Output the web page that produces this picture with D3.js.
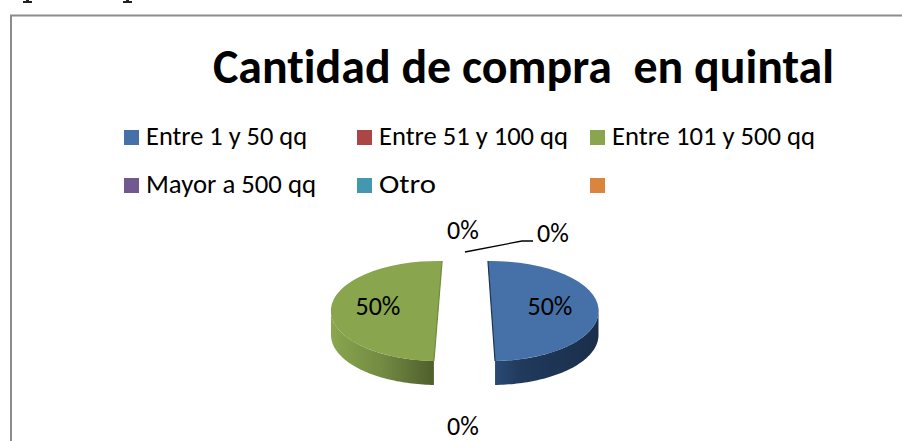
<!DOCTYPE html>
<html><head><meta charset="utf-8">
<script src="https://cdn.jsdelivr.net/npm/d3@7/dist/d3.min.js"></script>
<style>html,body{margin:0;padding:0;background:#fff}svg{display:block}text{font-family:Carlito,Calibri,Lato,sans-serif;fill:#000;white-space:pre;font-variant-ligatures:none}</style>
</head><body><svg id="c" width="902" height="441"></svg>
<script>
const chartTitle = "Cantidad de compra  en quintal";
const categories = ["Entre 1 y 50 qq","Entre 51 y 100 qq","Entre 101 y 500 qq","Mayor a 500 qq","Otro",""];
const values = [50,0,50,0,0,0];
const percentLabels = ["50%","0%","50%","0%","0%",""];
const colors = ["#4671a8","#aa4644","#89a54e","#71588f","#4298af","#db843d"];

const svg = d3.select("#c");
// slivers of the cropped page text above the chart (unreadable descender feet)
[23,123].forEach(x=>svg.append("path").attr("d",`M${x+3} 0h3v1h3v2h-9v-2h3z`).attr("fill","#222"));
svg.append("path").attr("d","M11 441V15.5H902").attr("fill","none").attr("stroke","#8c8c8c").attr("stroke-width",2);
svg.append("text").attr("x",213).attr("y",83).attr("font-size",48).attr("font-weight",700).attr("textLength",621).attr("lengthAdjust","spacingAndGlyphs").text(chartTitle);

const colX=d3.scalePoint().domain([0,1,2]).range([124,590]);
const rowY=d3.scalePoint().domain([0,1]).range([130,178]);
const textW=[161,189,203,170,57,0];
const lg=svg.selectAll("g.l").data(categories).join("g").attr("transform",(d,i)=>`translate(${colX(i%3)},${rowY(Math.floor(i/3))})`);
lg.append("rect").attr("width",15).attr("height",15).attr("fill",(d,i)=>colors[i]);
lg.append("text").attr("x",22).attr("y",15).attr("font-size",26).attr("textLength",(d,i)=>textW[i]||null).attr("lengthAdjust","spacingAndGlyphs").text(d=>d);

const rx=107, ry=50, depth=24, startDeg=-1.9;
const pie=d3.pie().sort(null).startAngle(startDeg*Math.PI/180).endAngle((360+startDeg)*Math.PI/180);
const tilt=[0,0,4.1*Math.PI/180,0,0,0];
const arcs=pie(values).map((d,i)=>({...d,startAngle:d.startAngle+tilt[i],endAngle:d.endAngle+tilt[i]}));
const explode=[[491.5,311],[463,311],[438,311],[463,311],[463,311],[463,311]];
const arcGen=d3.arc().innerRadius(0).outerRadius(rx);
const pt=(a,i,dy=0)=>[explode[i][0]+rx*Math.sin(a), explode[i][1]-ry*Math.cos(a)+dy];

const defs=svg.append("defs");
function grad(id,stops){const g=defs.append("linearGradient").attr("id",id);stops.forEach(s=>g.append("stop").attr("offset",s[0]).attr("stop-color",s[1]));}
grad("wb",[[0,"#2a4a74"],[0.25,"#203a5c"],[1,"#1a2e4a"]]);
grad("wg",[[0,"#8aa64f"],[0.5,"#728a42"],[1,"#4f5f2c"]]);
const wallFill={0:"url(#wb)",2:"url(#wg)"};
const chordStroke={0:"#1d3351",2:"#6f8a3f"};

arcs.map((d,i)=>({d,i})).filter(o=>o.d.value>0).forEach(({d,i})=>{
  const g=svg.append("g");
  const a0=Math.max(d.startAngle,Math.PI/2), a1=Math.min(d.endAngle,3*Math.PI/2);
  const steps=d3.range(0,61).map(k=>a0+(a1-a0)*k/60);
  const top=steps.map(a=>pt(a,i)), bot=steps.map(a=>pt(a,i,depth)).reverse();
  g.append("path").attr("d",d3.line()(top.concat(bot))+"Z").attr("fill",wallFill[i]);
  g.append("path").attr("transform",`translate(${explode[i][0]},${explode[i][1]}) scale(1,${ry/rx})`)
    .attr("d",arcGen(d)).attr("fill",colors[i]);
  g.append("path").attr("d",d3.line()([pt(d.startAngle,i),pt(d.endAngle,i)])).attr("stroke",chordStroke[i]).attr("stroke-width",1.2).attr("fill","none");
});

const labelPos=[[550,307],[463,427],[378,307],[463,231],[553,234],null];
percentLabels.forEach((t,i)=>{ if(!t) return;
  svg.append("text").attr("x",labelPos[i][0]).attr("y",labelPos[i][1]+8).attr("text-anchor","middle").attr("font-size",26).text(t);
});
svg.append("path").attr("d",d3.line()([[465,252],[522,241],[533,241]])).attr("fill","none").attr("stroke","#000").attr("stroke-width",1.3);
</script></body></html>
